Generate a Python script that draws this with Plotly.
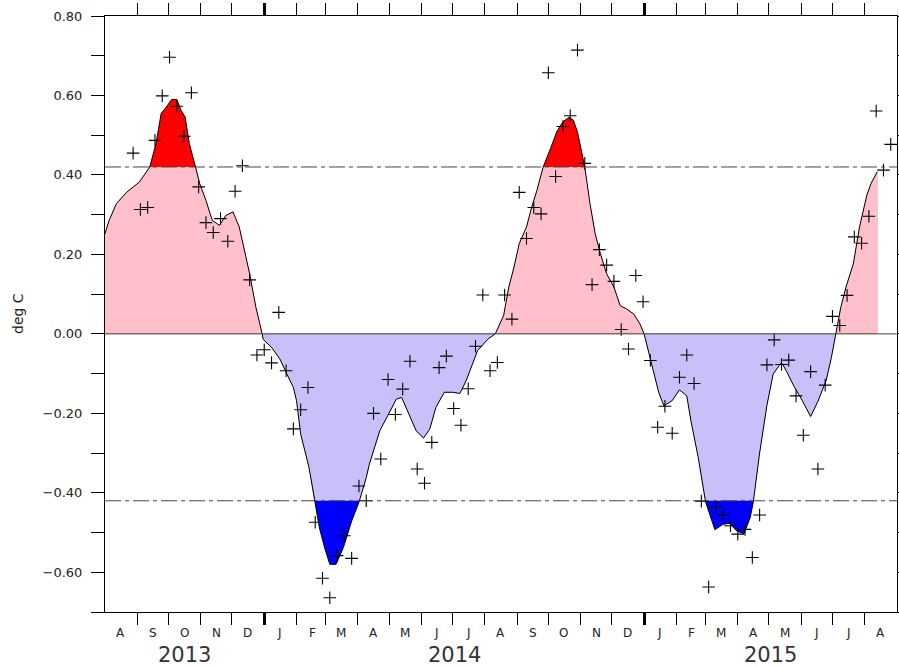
import numpy as np
import pandas as pd
import plotly.graph_objects as go

# ---------------- data ----------------
curve_dates = [
    "2013-08-01", "2013-08-05", "2013-08-12", "2013-08-22", "2013-09-03", "2013-09-09",
    "2013-09-13", "2013-09-19", "2013-09-24", "2013-09-29", "2013-10-04", "2013-10-09",
    "2013-10-13", "2013-10-17", "2013-10-21", "2013-10-27", "2013-10-31", "2013-11-06",
    "2013-11-12", "2013-11-19", "2013-11-25", "2013-12-02", "2013-12-08", "2013-12-18",
    "2013-12-24", "2013-12-30", "2013-12-31", "2014-01-08", "2014-01-16", "2014-01-22",
    "2014-01-29", "2014-02-01", "2014-02-05", "2014-02-13", "2014-02-19", "2014-02-23",
    "2014-02-28", "2014-03-05", "2014-03-11", "2014-03-18", "2014-03-26", "2014-04-02",
    "2014-04-09", "2014-04-12", "2014-04-22", "2014-05-02", "2014-05-08", "2014-05-13",
    "2014-05-21", "2014-05-27", "2014-06-03", "2014-06-09", "2014-06-15", "2014-06-23",
    "2014-07-01", "2014-07-08", "2014-07-14", "2014-07-19", "2014-07-25", "2014-08-04",
    "2014-08-11", "2014-08-19", "2014-08-24", "2014-08-29", "2014-09-03", "2014-09-10",
    "2014-09-15", "2014-09-20", "2014-09-26", "2014-10-03", "2014-10-09", "2014-10-15",
    "2014-10-21", "2014-10-25", "2014-10-29", "2014-11-05", "2014-11-10", "2014-11-15",
    "2014-11-20", "2014-11-26", "2014-12-03", "2014-12-09", "2014-12-15", "2014-12-22",
    "2014-12-28", "2015-01-01", "2015-01-06", "2015-01-10", "2015-01-15", "2015-01-20",
    "2015-01-28", "2015-02-04", "2015-02-11", "2015-02-15", "2015-02-22", "2015-03-01",
    "2015-03-10", "2015-03-18", "2015-03-24", "2015-03-31", "2015-04-07", "2015-04-13",
    "2015-04-16", "2015-04-22", "2015-04-29", "2015-05-05", "2015-05-13", "2015-05-18",
    "2015-05-25", "2015-06-02", "2015-06-10", "2015-06-17", "2015-06-25", "2015-06-30",
    "2015-07-04", "2015-07-09", "2015-07-14", "2015-07-21", "2015-07-27", "2015-08-03",
    "2015-08-07", "2015-08-13",
]
curve_vals = [
    0.252, 0.286, 0.328, 0.357, 0.382, 0.403,
    0.420, 0.479, 0.555, 0.571, 0.590, 0.590,
    0.563, 0.546, 0.479, 0.420, 0.378, 0.336,
    0.286, 0.273, 0.298, 0.307, 0.269, 0.151,
    0.067, 0.000, -0.014, -0.034, -0.063, -0.097,
    -0.135, -0.168, -0.252, -0.336, -0.424, -0.488,
    -0.538, -0.580, -0.580, -0.538, -0.471, -0.424,
    -0.362, -0.328, -0.244, -0.193, -0.164, -0.160,
    -0.210, -0.244, -0.262, -0.240, -0.185, -0.147,
    -0.147, -0.150, -0.118, -0.084, -0.042, -0.013,
    0.000, 0.046, 0.118, 0.168, 0.227, 0.269,
    0.319, 0.361, 0.420, 0.466, 0.508, 0.534,
    0.545, 0.538, 0.508, 0.420, 0.328, 0.252,
    0.202, 0.151, 0.118, 0.071, 0.063, 0.050,
    0.025, 0.000, -0.050, -0.092, -0.147, -0.181,
    -0.168, -0.141, -0.156, -0.219, -0.311, -0.422,
    -0.493, -0.479, -0.477, -0.496, -0.503, -0.462,
    -0.422, -0.300, -0.180, -0.101, -0.072, -0.095,
    -0.132, -0.168, -0.208, -0.170, -0.117, -0.059,
    0.000, 0.067, 0.118, 0.176, 0.269, 0.349,
    0.378, 0.408,
]

week_start = "2013-08-28"
weekly_vals = [
    0.455, 0.313, 0.318, 0.487, 0.599, 0.696, 0.573, 0.497, 0.607, 0.370,
    0.280, 0.255, 0.290, 0.233, 0.359, 0.423, 0.136, -0.053, -0.040, -0.073,
    0.054, -0.093, -0.239, -0.191, -0.135, -0.474, -0.615, -0.664, -0.558, -0.508,
    -0.565, -0.383, -0.420, -0.200, -0.315, -0.115, -0.203, -0.139, -0.069, -0.340,
    -0.376, -0.273, -0.085, -0.056, -0.188, -0.230, -0.138, -0.031, 0.098, -0.093,
    -0.072, 0.098, 0.037, 0.356, 0.240, 0.318, 0.302, 0.657, 0.396, 0.522,
    0.549, 0.714, 0.429, 0.124, 0.212, 0.173, 0.132, 0.011, -0.038, 0.147,
    0.081, -0.067, -0.235, -0.182, -0.250, -0.109, -0.053, -0.125, -0.421, -0.637,
    -0.435, -0.456, -0.483, -0.504, -0.492, -0.563, -0.456, -0.078, -0.015, -0.077,
    -0.066, -0.156, -0.255, -0.095, -0.340, -0.129, 0.044, 0.021, 0.097, 0.244,
    0.228, 0.296, 0.561, 0.412, 0.477,
]

threshold = 0.42
month_letters = ["A", "S", "O", "N", "D", "J", "F", "M", "A", "M", "J", "J",
                 "A", "S", "O", "N", "D", "J", "F", "M", "A", "M", "J", "J", "A"]
year_labels = ["2013", "2014", "2015"]
y_tick_vals = [-0.7, -0.6, -0.5, -0.4, -0.3, -0.2, -0.1, 0.0, 0.1, 0.2, 0.3, 0.4, 0.5, 0.6, 0.7, 0.8]
y_tick_text = ["", "\u22120.60", "", "\u22120.40", "", "\u22120.20", "", "0.00",
               "", "0.20", "", "0.40", "", "0.60", "", "0.80"]

x_start, x_end = "2013-08-01", "2015-09-01"

# ---------------- helpers ----------------
t = pd.to_datetime(curve_dates).values.astype("int64").astype(float)
v = np.array(curve_vals, dtype=float)


def add_crossings(tt, vv, levels):
    ot, ov = [tt[0]], [vv[0]]
    for i in range(1, len(vv)):
        v0, v1, t0, t1 = vv[i - 1], vv[i], tt[i - 1], tt[i]
        cr = []
        for L in levels:
            if (v0 - L) * (v1 - L) < 0:
                cr.append(((L - v0) / (v1 - v0), L))
        for f, L in sorted(cr):
            ot.append(t0 + f * (t1 - t0))
            ov.append(L)
        ot.append(t1)
        ov.append(v1)
    return np.array(ot), np.array(ov)


ft, fv = add_crossings(t, v, [-threshold, 0.0, threshold])
fx = pd.to_datetime(ft.astype("int64"))

obs_dates = pd.date_range(week_start, periods=len(weekly_vals), freq="7D")

PINK = "#FFC0CB"
RED = "#FF0000"
LAV = "#C8C0F8"
BLUE = "#0000FF"

fig = go.Figure()


def area(y, color):
    fig.add_trace(go.Scatter(x=fx, y=y, mode="lines", fill="tozeroy",
                             fillcolor=color, line=dict(width=0, color=color),
                             hoverinfo="skip", showlegend=False))


area(np.clip(fv, 0, None), RED)
area(np.clip(fv, 0, threshold), PINK)
area(np.clip(fv, None, 0), BLUE)
area(np.clip(fv, -threshold, 0), LAV)

fig.add_trace(go.Scatter(x=pd.to_datetime(curve_dates), y=curve_vals, mode="lines",
                         line=dict(color="black", width=1), showlegend=False))
fig.add_trace(go.Scatter(x=obs_dates, y=weekly_vals, mode="markers",
                         marker=dict(symbol="cross-thin", size=9,
                                     line=dict(width=1.1, color="black")),
                         showlegend=False))

# reference lines
for yy, dash, col in [(0.0, "solid", "#444444"), (threshold, "16px,4px,4px,4px", "#444444"),
                      (-threshold, "16px,4px,4px,4px", "#444444")]:
    fig.add_shape(type="line", xref="paper", yref="y", x0=0, x1=1, y0=yy, y1=yy,
                  line=dict(color=col, width=1, dash=dash), layer="above")

# month / year labels
month_starts = pd.date_range(x_start, periods=len(month_letters), freq="MS")
for ms, lab in zip(month_starts, month_letters):
    fig.add_annotation(x=ms + pd.Timedelta(days=15), y=0, xref="x", yref="paper",
                       text=lab, showarrow=False, yanchor="middle", yshift=-21,
                       font=dict(family="DejaVu Sans", size=12, color="#222222"))

xs, xe = pd.Timestamp(x_start), pd.Timestamp(x_end)
for lab in year_labels:
    a = max(pd.Timestamp(f"{lab}-01-01"), xs)
    b = min(pd.Timestamp(f"{int(lab) + 1}-01-01"), xe)
    fig.add_annotation(x=a + (b - a) / 2, y=0, xref="x", yref="paper", text=lab,
                       showarrow=False, yanchor="middle", yshift=-43,
                       font=dict(family="DejaVu Sans", size=21, color="#333333"))

fig.add_annotation(x=0, y=0.5, xref="paper", yref="paper", text="deg C",
                   textangle=-90, showarrow=False, xshift=-87,
                   xanchor="center", yanchor="middle",
                   font=dict(family="DejaVu Sans", size=14, color="#222222"))

year_ticks = ["2014-01-01", "2015-01-01"]
minor_ticks = [d for d in month_starts[1:] if d.month != 1]

fig.update_layout(
    width=899, height=667,
    margin=dict(l=105, r=2, t=16, b=55, autoexpand=False),
    paper_bgcolor="white", plot_bgcolor="white",
    showlegend=False,
    xaxis=dict(range=[x_start, x_end], showgrid=False, zeroline=False, automargin=False,
               showline=True, linecolor="black", linewidth=1, mirror="ticks",
               tickmode="array", tickvals=year_ticks, showticklabels=False,
               ticks="outside", ticklen=12, tickwidth=3, tickcolor="black",
               minor=dict(tickmode="array", tickvals=minor_ticks, ticks="outside",
                          ticklen=12, tickwidth=1, tickcolor="black", showgrid=False)),
    yaxis=dict(range=[-0.7, 0.8], showgrid=False, zeroline=False, automargin=False,
               showline=True, linecolor="black", linewidth=1, mirror="ticks",
               tickmode="array", tickvals=y_tick_vals, ticktext=y_tick_text,
               ticks="outside", ticklen=13, tickwidth=1, tickcolor="black",
               ticklabelstandoff=6,
               tickfont=dict(family="DejaVu Sans", size=13, color="#222222")),
)

fig.write_html("out.html", config={"displayModeBar": False},
               post_script="document.body.style.margin='0';"
                           "document.body.style.overflow='hidden';")
